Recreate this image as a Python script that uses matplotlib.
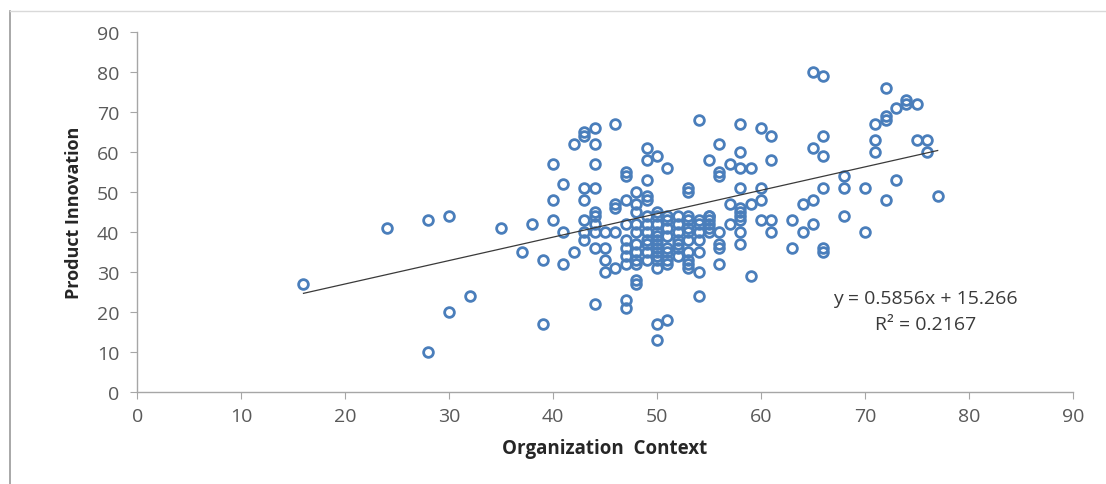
import numpy as np
import matplotlib
matplotlib.use('Agg')
import matplotlib.pyplot as plt
from matplotlib.lines import Line2D

plt.rcParams['font.family'] = ['Open Sans', 'DejaVu Sans']

# points, grouped by x (Organization Context)
org_context = [
    16, 24, 28, 28, 30, 30, 32, 35, 37, 38, 39, 39,
    40, 40, 40, 41, 41, 41, 42, 42, 43, 43, 43, 43, 43, 43, 43,
    44, 44, 44, 44, 44, 44, 44, 44, 44, 44,
    45, 45, 45, 45, 46, 46, 46, 46, 46,
    47, 47, 47, 47, 47, 47, 47, 47, 47, 47,
    48, 48, 48, 48, 48, 48, 48, 48, 48, 48, 48,
    49, 49, 49, 49, 49, 49, 49, 49, 49, 49, 49, 49,
    50, 50, 50, 50, 50, 50, 50, 50, 50, 50, 50, 50, 50, 50, 50,
    51, 51, 51, 51, 51, 51, 51, 51, 51, 51,
    52, 52, 52, 52, 52, 52, 52,
    53, 53, 53, 53, 53, 53, 53, 53, 53, 53, 53,
    54, 54, 54, 54, 54, 54, 54, 54,
    55, 55, 55, 55, 55, 55, 55,
    56, 56, 56, 56, 56, 56, 56,
    57, 57, 57,
    58, 58, 58, 58, 58, 58, 58, 58, 58, 58,
    59, 59, 59, 60, 60, 60, 60, 61, 61, 61, 61,
    63, 63, 64, 64, 65, 65, 65, 65, 66, 66, 66, 66, 66, 66,
    68, 68, 68, 70, 70, 71, 71, 71, 72, 72, 72, 72,
    73, 73, 74, 74, 75, 75, 76, 76, 77,
]
product_innovation = [
    27, 41, 43, 10, 44, 20, 24, 41, 35, 42, 33, 17,
    57, 48, 43, 52, 40, 32, 62, 35, 65, 64, 51, 48, 43, 40, 38,
    66, 62, 57, 51, 45, 44, 42, 40, 36, 22,
    40, 36, 30, 33, 67, 47, 40, 31, 46,
    55, 54, 48, 42, 38, 36, 34, 32, 23, 21,
    50, 47, 45, 42, 40, 37, 35, 33, 32, 28, 27,
    61, 58, 53, 49, 48, 44, 42, 40, 38, 37, 35, 33,
    59, 45, 44, 42, 40, 39, 38, 37, 36, 35, 34, 33, 31, 17, 13,
    56, 44, 43, 41, 39, 36, 35, 33, 32, 18,
    44, 42, 40, 38, 36, 34, 37,
    51, 50, 44, 43, 41, 40, 38, 35, 33, 32, 31,
    68, 43, 42, 40, 38, 35, 30, 24,
    58, 44, 43, 42, 41, 40, 44,
    62, 54, 37, 36, 32, 40, 55,
    57, 42, 47,
    67, 60, 56, 51, 46, 45, 44, 43, 40, 37,
    56, 47, 29, 66, 51, 48, 43, 64, 58, 43, 40,
    43, 36, 47, 40, 80, 61, 48, 42, 79, 64, 59, 51, 36, 35,
    54, 51, 44, 51, 40, 67, 63, 60, 76, 69, 68, 48,
    71, 53, 73, 72, 72, 63, 63, 60, 49,
]

# Excel trendline shown on the chart
slope = 0.5856
intercept = 15.266
r_squared = 0.2167

fig = plt.figure(figsize=(11.06, 4.85), dpi=100)
ax = fig.add_axes([0.124, 0.190, 0.846, 0.742])

ax.plot(org_context, product_innovation, linestyle='none', marker='o',
        markersize=7, markerfacecolor='none', markeredgecolor='#4A7EBB',
        markeredgewidth=2.0)

xs = np.array([min(org_context), max(org_context)])
ax.plot(xs, slope * xs + intercept, color='#3a3a3a', linewidth=0.9)

ax.set_xlim(0, 90)
ax.set_ylim(0, 90)
ax.set_xticks(range(0, 91, 10))
ax.set_yticks(range(0, 91, 10))

for side in ['top', 'right']:
    ax.spines[side].set_visible(False)
for side in ['left', 'bottom']:
    ax.spines[side].set_color('#a6a6a6')
    ax.spines[side].set_linewidth(1.0)
ax.tick_params(axis='both', colors='#a6a6a6', labelcolor='#595959',
               labelsize=14, length=5, direction='out')
ax.tick_params(axis='x', pad=6)
ax.tick_params(axis='y', pad=8)

ax.set_xlabel('Organization  Context', fontsize=13.5, fontweight='bold',
              color='#262626', labelpad=9)
ax.set_ylabel('Product Innovation', fontsize=13, fontweight='bold',
              color='#262626', labelpad=10)

ax.text(75.8, 23.5, 'y = 0.5856x + 15.266', ha='center', va='center',
        fontsize=14, color='#3a3a3a')
ax.text(75.8, 17.0, 'R² = {:.4f}'.format(r_squared), ha='center', va='center',
        fontsize=14, color='#3a3a3a')

# chart frame (left and top edges of the Excel chart area)
fig.add_artist(Line2D([10 / 1106, 10 / 1106], [0, 1 - 12 / 485],
                      transform=fig.transFigure, color='#9a9a9a', linewidth=1.2))
fig.add_artist(Line2D([10 / 1106, 1], [1 - 12 / 485, 1 - 12 / 485],
                      transform=fig.transFigure, color='#d9d9d9', linewidth=1.0))

fig.savefig('out.png', dpi=100)
